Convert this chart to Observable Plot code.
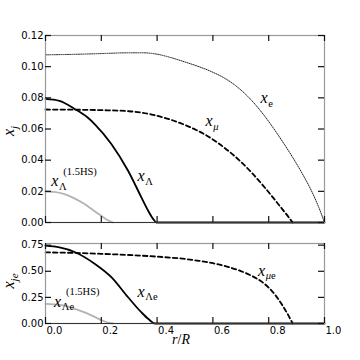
<!DOCTYPE html>
<html><head><meta charset="utf-8">
<script src="https://cdn.jsdelivr.net/npm/d3@7"></script>
<script src="https://cdn.jsdelivr.net/npm/@observablehq/plot@0.6"></script>
<style>
body{margin:0;background:#fff;}
#chart{position:relative;width:360px;height:360px;overflow:hidden;background:#fff;}
#chart svg{display:block;}
</style></head><body><div id="chart"></div>
<script>
// ---- data ----
const rXe  = [0, 0.1, 0.2, 0.3, 0.35, 0.4, 0.45, 0.5, 0.55, 0.6, 0.64, 0.68, 0.72, 0.76, 0.8, 0.84, 0.88, 0.92, 0.95, 0.98, 1.0];
const vXe  = [0.1076, 0.1079, 0.1084, 0.1089, 0.1089, 0.1080, 0.1058, 0.1030, 0.1000, 0.0964, 0.0928, 0.0880, 0.0818, 0.0740, 0.0648, 0.0545, 0.0435, 0.0315, 0.0215, 0.0095, 0];
const rXmu = [0, 0.1, 0.2, 0.3, 0.34, 0.38, 0.42, 0.46, 0.5, 0.54, 0.58, 0.62, 0.66, 0.7, 0.74, 0.78, 0.82, 0.85, 0.87, 0.886];
const vXmu = [0.0725, 0.0724, 0.0721, 0.0714, 0.0706, 0.0693, 0.0675, 0.0653, 0.0626, 0.0594, 0.0555, 0.0508, 0.0453, 0.0390, 0.0318, 0.0237, 0.0150, 0.0083, 0.0038, 0];
const rXL  = [0, 0.05, 0.104, 0.15, 0.176, 0.236, 0.296, 0.344, 0.368, 0.385, 0.398, 1.0];
const vXL  = [0.0793, 0.0780, 0.0729, 0.0675, 0.0632, 0.0504, 0.0332, 0.0160, 0.0075, 0.0025, 0, 0];
const rXLhs = [0, 0.03, 0.068, 0.1, 0.14, 0.17, 0.2, 0.22, 0.242];
const vXLhs = [0.0199, 0.0196, 0.0182, 0.0158, 0.0118, 0.0080, 0.0043, 0.0018, 0];

const rXLe = [0, 0.05, 0.104, 0.176, 0.236, 0.296, 0.344, 0.37, 0.392, 1.0];
const vXLe = [0.745, 0.728, 0.685, 0.573, 0.444, 0.251, 0.106, 0.04, 0, 0];
const rXmue = [0, 0.1, 0.2, 0.3, 0.4, 0.5, 0.55, 0.6, 0.65, 0.7, 0.74, 0.78, 0.82, 0.85, 0.87, 0.886];
const vXmue = [0.681, 0.676, 0.667, 0.656, 0.640, 0.618, 0.600, 0.577, 0.545, 0.502, 0.455, 0.390, 0.285, 0.170, 0.080, 0];
const rXLehs = [0, 0.03, 0.068, 0.1, 0.14, 0.17, 0.2, 0.22, 0.242];
const vXLehs = [0.187, 0.184, 0.171, 0.145, 0.106, 0.070, 0.033, 0.012, 0];

const xTicks = [0, 0.2, 0.4, 0.6, 0.8, 1.0];
const yTicksTop = [0, 0.02, 0.04, 0.06, 0.08, 0.10, 0.12];
const yTicksBot = [0, 0.25, 0.5, 0.75];

// annotation anchors (data coordinates) and texts
const labelsTop = [
  {r: 0.7725, v: 0.0761, sub: "e", subStyle: "normal"},
  {r: 0.575, v: 0.0615, sub: "μ", subStyle: "italic"},
  {r: 0.3317, v: 0.0263, sub: "Λ", subStyle: "normal"},
  {r: 0.0226, v: 0.0229, sub: "Λ", subStyle: "normal", sup: "(1.5HS)"}
];
const labelsBot = [
  {r: 0.3317, v: 0.251, sub: "Λe", subStyle: "normal"},
  {r: 0.763, v: 0.451, sub: "μe", subStyle: "italic"},
  {r: 0.0323, v: 0.154, sub: "Λe", subStyle: "normal", sup: "(1.5HS)"}
];

const zip = (rs, vs) => rs.map((r, i) => ({r, v: vs[i]}));

const mathFont = "'Liberation Serif', 'DejaVu Serif', serif";
const tickFont = "'DejaVu Sans', sans-serif";
const W = 360, ML = 45, MR = 36;
const TL = 6; // tick length

function axesMarks(yTicks, innerH, yFmt, showXLabels) {
  const innerW = W - ML - MR;
  const tk = "#111";
  const sw = 1.2;
  const m = [
    Plot.tickY(yTicks, {y: d => d, stroke: tk, strokeWidth: sw, insetRight: innerW - TL}),
    Plot.tickY(yTicks, {y: d => d, stroke: tk, strokeWidth: sw, insetLeft: innerW - TL}),
    Plot.tickX(xTicks, {x: d => d, stroke: tk, strokeWidth: sw, insetBottom: innerH - TL}),
    Plot.tickX(xTicks, {x: d => d, stroke: tk, strokeWidth: sw, insetTop: innerH - TL}),
    Plot.axisY(yTicks, {anchor: "left", tickSize: 0, tickPadding: 2, tickFormat: yFmt, label: null, fill: "black"})
  ];
  if (showXLabels) m.push(Plot.axisX(xTicks, {anchor: "bottom", tickSize: 0, tickPadding: 3, textAnchor: "start", dx: 1, tickFormat: d3.format(".1f"), label: null, fill: "black"}));
  else m.push(Plot.axisX(xTicks, {anchor: "bottom", tickSize: 0, tickFormat: () => "", label: null}));
  return m;
}

const commonStyle = {fontFamily: tickFont, fontSize: "10px", color: "black", background: "white", overflow: "visible"};

const topPlot = Plot.plot({
  width: W, height: 230, marginTop: 35, marginBottom: 8, marginLeft: ML, marginRight: MR,
  x: {domain: [0, 1]}, y: {domain: [0, 0.12]},
  style: commonStyle,
  marks: [
    Plot.line(zip(rXLhs, vXLhs), {x: "r", y: "v", stroke: "#b3b3b3", strokeWidth: 1.8, curve: "monotone-x"}),
    Plot.line(zip(rXe, vXe), {x: "r", y: "v", stroke: "#222", strokeWidth: 1, strokeDasharray: "1,1.2", curve: "monotone-x"}),
    Plot.line(zip(rXmu, vXmu), {x: "r", y: "v", stroke: "black", strokeWidth: 1.8, strokeDasharray: "4.5,3", curve: "monotone-x"}),
    Plot.line(zip(rXL, vXL), {x: "r", y: "v", stroke: "black", strokeWidth: 1.8, curve: "monotone-x"}),
    Plot.frame({stroke: "#999", strokeWidth: 1.2}),
    Plot.ruleY([0], {stroke: "#333", strokeWidth: 1.2}),
    ...axesMarks(yTicksTop, 230 - 35 - 8, d3.format(".2f"), false)
  ]
});

const botPlot = Plot.plot({
  width: W, height: 130, marginTop: 13, marginBottom: 37, marginLeft: ML, marginRight: MR,
  x: {domain: [0, 1]}, y: {domain: [0, 0.766]},
  style: commonStyle,
  marks: [
    Plot.line(zip(rXLehs, vXLehs), {x: "r", y: "v", stroke: "#b3b3b3", strokeWidth: 1.8, curve: "monotone-x"}),
    Plot.line(zip(rXmue, vXmue), {x: "r", y: "v", stroke: "black", strokeWidth: 1.8, strokeDasharray: "4.5,3", curve: "monotone-x"}),
    Plot.line(zip(rXLe, vXLe), {x: "r", y: "v", stroke: "black", strokeWidth: 1.8, curve: "monotone-x"}),
    Plot.frame({stroke: "#999", strokeWidth: 1.2}),
    Plot.ruleY([0], {stroke: "#333", strokeWidth: 1.2}),
    ...axesMarks(yTicksBot, 130 - 13 - 37, d3.format(".2f"), true)
  ]
});

function addLabels(plot, labels) {
  const sx = plot.scale("x"), sy = plot.scale("y");
  const g = d3.select(plot).append("g").attr("font-family", mathFont).attr("text-anchor", "start");
  for (const L of labels) {
    const x = sx.apply(L.r), y = sy.apply(L.v);
    g.append("text").attr("x", x).attr("y", y).attr("font-size", 16).attr("font-style", "italic").text("x");
    g.append("text").attr("x", x + 7.8).attr("y", y + 3.5).attr("font-size", 10.5)
      .attr("font-style", L.subStyle).text(L.sub.charAt(0))
      .call(s => { if (L.sub.length > 1) s.append("tspan").attr("font-style", "normal").text(L.sub.slice(1)); });
    if (L.sup) g.append("text").attr("x", x + 12).attr("y", y - 11.5).attr("font-size", 10.5).text(L.sup);
  }
}
addLabels(topPlot, labelsTop);
addLabels(botPlot, labelsBot);

// axis titles
d3.select(topPlot).append("text").attr("transform", "translate(14,131) rotate(-90)")
  .attr("text-anchor", "middle").attr("font-family", mathFont).attr("font-style", "italic").attr("font-size", 16)
  .text("x").append("tspan").attr("dy", 4).attr("font-size", 11).text("j");
d3.select(botPlot).append("text").attr("transform", "translate(14,51) rotate(-90)")
  .attr("text-anchor", "middle").attr("font-family", mathFont).attr("font-style", "italic").attr("font-size", 16)
  .text("x").append("tspan").attr("dy", 4).attr("font-size", 11).text("je");
const xt = d3.select(botPlot).append("text").attr("x", 181).attr("y", 113.5)
  .attr("text-anchor", "middle").attr("font-family", mathFont).attr("font-size", 14);
xt.append("tspan").attr("font-style", "italic").text("r");
xt.append("tspan").text("/");
xt.append("tspan").attr("font-style", "italic").text("R");

const chart = document.getElementById("chart");
chart.appendChild(topPlot);
chart.appendChild(botPlot);
</script></body></html>
